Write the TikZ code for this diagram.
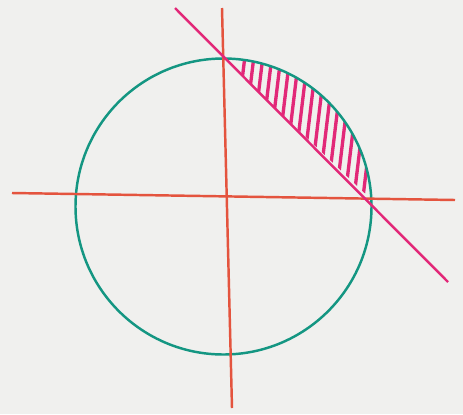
\documentclass[tikz,border=0pt]{standalone}
\usepackage{xcolor}
\usetikzlibrary{math}
\definecolor{mygreen}{RGB}{20,150,130}
\definecolor{myred}{RGB}{228,84,62}
\definecolor{mypink}{RGB}{226,40,120}
\definecolor{paper}{RGB}{240,240,238}

\begin{document}
\begin{tikzpicture}[x=0.02cm,y=0.02cm]
\tikzmath{
\R=148;
}
\fill[paper] (0,0) rectangle (463,414);
\useasboundingbox (0,0) rectangle (463,414);

\coordinate (O) at (223.5,207.5);
\coordinate (A) at (223,356);
\coordinate (B) at (370,214);

% hatched segment
\begin{scope}
\clip (A) arc[start angle=90.2, end angle=2.5, radius=\R] -- cycle;
\foreach \x in {238,247,...,376}
  \draw[mypink, line width=1.9] (\x-12,200) -- (\x+12,400);
\end{scope}

\draw[line width=1.4, mygreen] (O) circle[radius=\R];
\draw[line width=1.4, myred] (12,221) -- (455,214);
\draw[line width=1.4, myred] (222,406) -- (232,6);
\draw[line width=1.4, mypink] (175,406) -- (448,132);
\end{tikzpicture}
\end{document}
